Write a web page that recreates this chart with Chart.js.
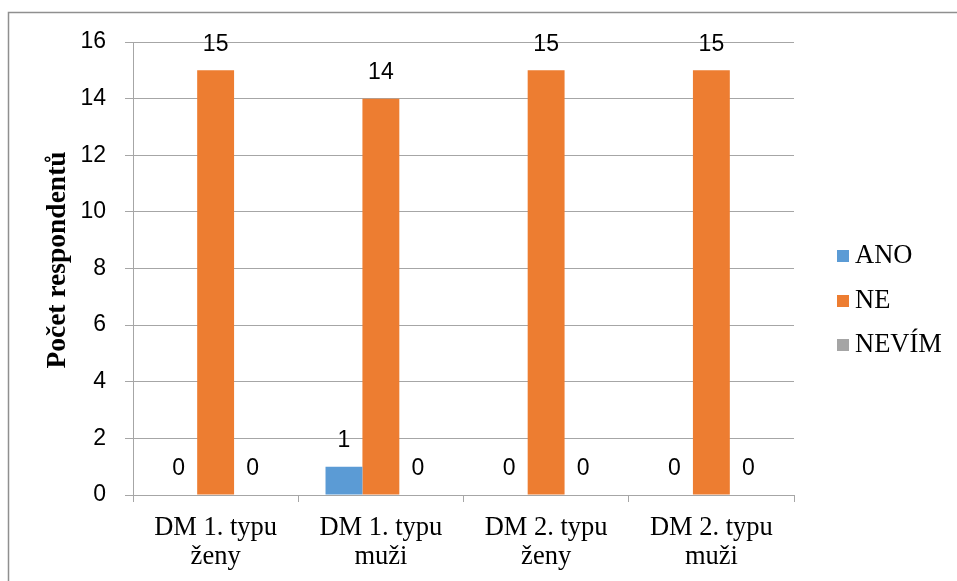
<!DOCTYPE html>
<html>
<head>
<meta charset="utf-8">
<script src="https://cdn.jsdelivr.net/npm/chart.js@4/dist/chart.umd.min.js"></script>
<style>
  html, body { margin: 0; padding: 0; background: #ffffff; }
  canvas { display: block; }
</style>
</head>
<body>
<canvas id="chart" width="957" height="581"></canvas>
<script>
// Categories (two-line labels) and the three answer series
const categories = [
  ['DM 1. typu', 'ženy'],
  ['DM 1. typu', 'muži'],
  ['DM 2. typu', 'ženy'],
  ['DM 2. typu', 'muži']
];
const seriesNames = ['ANO', 'NE', 'NEVÍM'];
const anoValues = [0, 1, 0, 0];
const neValues = [15, 14, 15, 15];
const nevimValues = [0, 0, 0, 0];
const seriesColors = ['#5B9BD5', '#ED7D31', '#A5A5A5'];
const axisTitle = 'Počet respondentů';
const yMin = 0, yMax = 16, yStep = 2;

const SERIF = '"Liberation Serif", "Times New Roman", serif';
const SANS = '"Liberation Sans", Arial, sans-serif';
const GRID = '#a6a6a6';

// Outer frame (top and left edges)
const framePlugin = {
  id: 'frame',
  beforeDraw(chart) {
    const ctx = chart.ctx;
    ctx.save();
    ctx.strokeStyle = '#8f8f8f';
    ctx.lineWidth = 1.5;
    ctx.beginPath();
    ctx.moveTo(8.5, 581);
    ctx.lineTo(8.5, 12.5);
    ctx.lineTo(957, 12.5);
    ctx.stroke();
    ctx.restore();
  }
};

// Value labels above every bar
const valueLabels = {
  id: 'valueLabels',
  afterDatasetsDraw(chart) {
    const ctx = chart.ctx;
    ctx.save();
    ctx.font = '23px ' + SANS;
    ctx.fillStyle = '#000000';
    ctx.textAlign = 'center';
    ctx.textBaseline = 'middle';
    chart.data.datasets.forEach((ds, di) => {
      const meta = chart.getDatasetMeta(di);
      meta.data.forEach((bar, i) => {
        ctx.fillText(String(ds.data[i]), bar.x, bar.y - 26);
      });
    });
    ctx.restore();
  }
};

// Rotated y-axis title
const yTitle = {
  id: 'yTitle',
  afterDraw(chart) {
    const ctx = chart.ctx;
    ctx.save();
    ctx.translate(65, 260);
    ctx.rotate(-Math.PI / 2);
    ctx.font = 'bold 27.5px ' + SERIF;
    ctx.fillStyle = '#000000';
    ctx.textAlign = 'center';
    ctx.textBaseline = 'alphabetic';
    ctx.fillText(axisTitle, 0, 0);
    ctx.restore();
  }
};

// Legend on the right
const sideLegend = {
  id: 'sideLegend',
  afterDraw(chart) {
    const ctx = chart.ctx;
    ctx.save();
    ctx.font = '26.5px ' + SERIF;
    ctx.textBaseline = 'alphabetic';
    ctx.textAlign = 'left';
    const baselines = [263, 308, 352];
    chart.data.datasets.forEach((ds, i) => {
      const b = baselines[i];
      ctx.fillStyle = ds.backgroundColor;
      ctx.fillRect(837, b - 13, 12, 12);
      ctx.fillStyle = '#000000';
      ctx.fillText(ds.label, 855, b);
    });
    ctx.restore();
  }
};

new Chart(document.getElementById('chart'), {
  type: 'bar',
  data: {
    labels: categories,
    datasets: [
      { label: seriesNames[0], data: anoValues, backgroundColor: seriesColors[0] },
      { label: seriesNames[1], data: neValues, backgroundColor: seriesColors[1] },
      { label: seriesNames[2], data: nevimValues, backgroundColor: seriesColors[2] }
    ]
  },
  options: {
    responsive: false,
    animation: false,
    devicePixelRatio: 1,
    layout: { padding: { left: 0, top: 42, right: 163, bottom: 0 } },
    datasets: { bar: { categoryPercentage: 0.67, barPercentage: 1.0, borderWidth: 0 } },
    plugins: {
      legend: { display: false },
      tooltip: { enabled: false }
    },
    scales: {
      x: {
        afterFit(scale) { scale.height = 86; },
        grid: {
          drawOnChartArea: false,
          drawTicks: true,
          tickLength: 7,
          color: GRID,
          offset: true
        },
        border: { color: GRID, width: 1 },
        ticks: {
          color: '#000000',
          padding: 12,
          maxRotation: 0,
          font: { family: SERIF, size: 26.5, lineHeight: 29 / 26.5 }
        }
      },
      y: {
        min: yMin,
        max: yMax,
        afterFit(scale) { scale.width = 133; },
        grid: { color: GRID, tickLength: 8, drawTicks: true },
        border: { color: GRID, width: 1 },
        ticks: {
          stepSize: yStep,
          color: '#000000',
          padding: 19,
          font: { family: SANS, size: 23 }
        }
      }
    }
  },
  plugins: [framePlugin, valueLabels, yTitle, sideLegend]
});
</script>
</body>
</html>
